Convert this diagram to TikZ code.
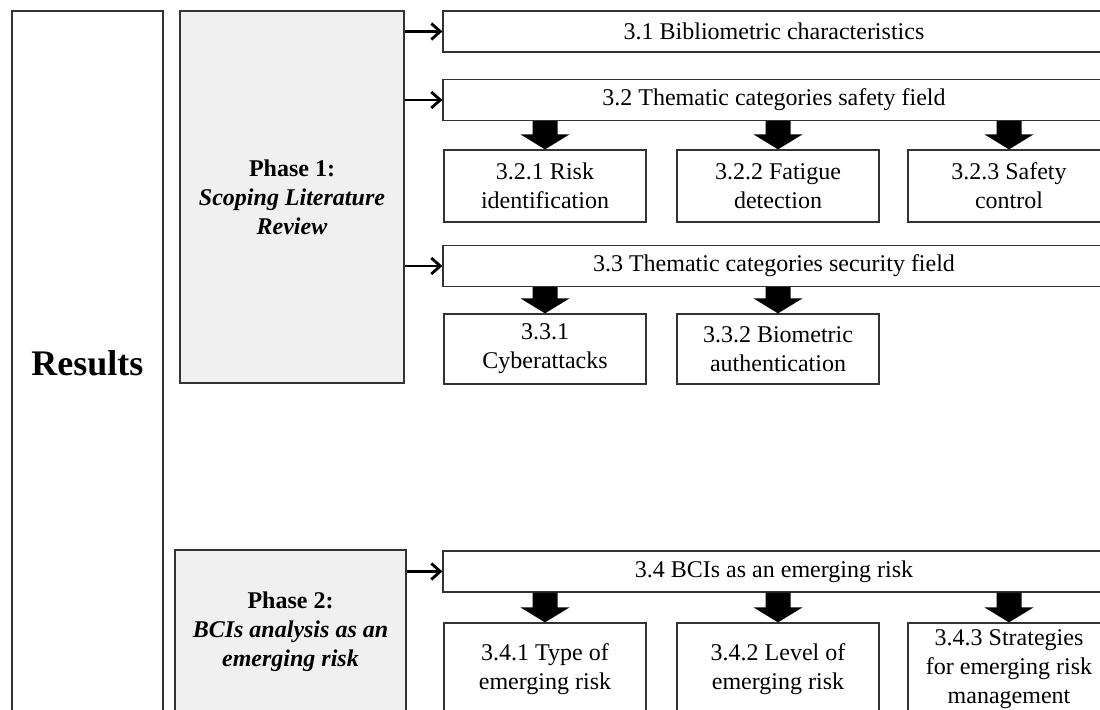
\documentclass[tikz,border=0pt]{standalone}
\usepackage{fontspec}
\setmainfont{Liberation Serif}
\usetikzlibrary{arrows.meta,calc}

\newcommand\fatarrow[2]{%
	\coordinate (t) at (#1.south -| #2.north);
	\fill (#2.north) -- ++(24.5,-15) -- ++(-12,0) -- ($(t)+(12.5,0)$)
		-- ($(t)+(-12.5,0)$) -- ($(#2.north)+(-12.5,-15)$) -- ++(-12,0) -- cycle;
}

\begin{document}
\begin{tikzpicture}[x=0.5pt,y=-0.5pt]

\def\bw{101pt}
\tikzstyle{box} = [
	draw=black!80, line width=0.6pt, rectangle, inner sep=0pt, align=center,
	font=\fontsize{12}{14.5}\selectfont ];
\tikzstyle{wide} = [box, minimum width=331pt, minimum height=20.5pt];
\tikzstyle{small} = [box, minimum width=\bw];
\tikzstyle{phase} = [box, fill=black!6, font=\fontsize{12}{14.5}\selectfont\bfseries];
\tikzstyle{link} = [line width=1.4pt, -{Straight Barb[length=4.5pt,width=8pt]}];
\clip (0,0) rectangle (1100,710);

\node[box, minimum width=75.5pt, minimum height=352pt,
	font=\fontsize{18}{20}\selectfont\bfseries] (res) at (87.5,363) {Results};

\node[phase, minimum width=112pt, minimum height=186pt] (p1) at (292,197)
	{Phase 1:\\ \textit{Scoping Literature}\\ \textit{Review}};
\node[phase, minimum width=115.5pt, minimum height=82pt] (p2) at (290.5,632)
	{Phase 2:\\ \textit{BCIs analysis as an}\\ \textit{emerging risk}};

\node[wide] (b31) at (774,31.5) {3.1 Bibliometric characteristics};
\node[wide] (b32) at (774,100) {3.2 Thematic categories safety field};
\node[small, minimum height=36pt] (b321) at (545,186) {3.2.1 Risk\\ identification};
\node[small, minimum height=36pt] (b322) at (778,186) {3.2.2 Fatigue\\ detection};
\node[small, minimum height=36pt] (b323) at (1009,186) {3.2.3 Safety\\ control};

\node[wide] (b33) at (774,266) {3.3 Thematic categories security field};
\node[small, minimum height=35pt] (b331) at (545,349) {3.3.1\\ Cyberattacks};
\node[small, minimum height=35pt] (b332) at (778,349) {3.3.2 Biometric\\ authentication};

\node[wide] (b34) at (774,571.5) {3.4 BCIs as an emerging risk};
\node[small, minimum height=46pt] (b341) at (545,669) {3.4.1 Type of\\ emerging risk};
\node[small, minimum height=46pt] (b342) at (778,669) {3.4.2 Level of\\ emerging risk};
\node[small, minimum height=46pt] (b343) at (1009,669) {3.4.3 Strategies\\ for emerging risk\\ management};

\draw[link] (p1.east |- b31.west) -- (b31.west);
\draw[link] (p1.east |- b32.west) -- (b32.west);
\draw[link] (p1.east |- b33.west) -- (b33.west);
\draw[link] (p2.east |- b34.west) -- (b34.west);

\fatarrow{b32}{b321}
\fatarrow{b32}{b322}
\fatarrow{b32}{b323}
\fatarrow{b33}{b331}
\fatarrow{b33}{b332}
\fatarrow{b34}{b341}
\fatarrow{b34}{b342}
\fatarrow{b34}{b343}

\end{tikzpicture}
\end{document}
